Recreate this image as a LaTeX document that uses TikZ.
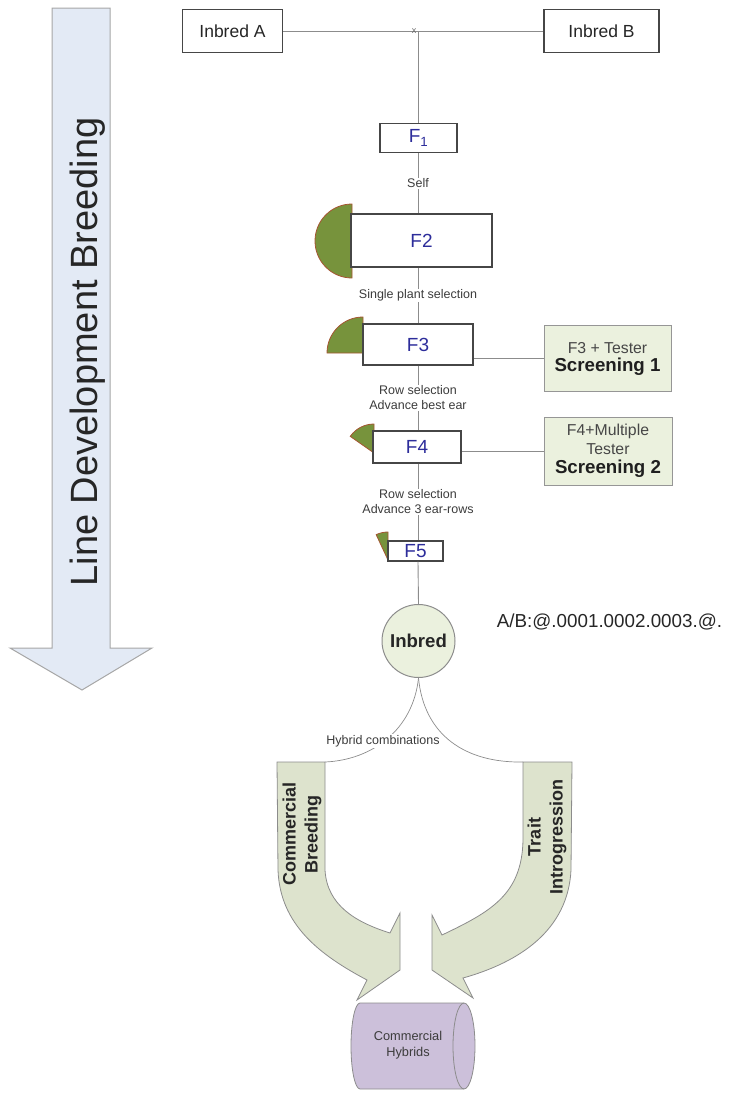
\documentclass[tikz,border=0pt]{standalone}
\usepackage{fontspec}
\setmainfont{Liberation Sans}
\newcommand\fsz[2]{\fontsize{#1}{#2}\selectfont}
\definecolor{linegray}{RGB}{140,140,140}
\definecolor{boxgray}{RGB}{70,70,70}
\definecolor{fblue}{RGB}{45,45,155}
\definecolor{lblgray}{RGB}{60,60,60}
\definecolor{txtgray}{RGB}{70,70,70}
\definecolor{scrfill}{RGB}{235,241,222}
\definecolor{scrborder}{RGB}{150,150,150}
\definecolor{seedgreen}{RGB}{119,147,60}
\definecolor{seedred}{RGB}{165,85,50}
\definecolor{arrowfill}{RGB}{221,227,205}
\definecolor{cylfill}{RGB}{204,192,218}
\definecolor{bigfill}{RGB}{227,234,245}
\begin{document}
\begin{tikzpicture}[x=1pt,y=-1pt,
  conn/.style={draw=linegray, line width=0.9pt},
  inbox/.style={draw=boxgray, line width=1.2pt, fill=white, inner sep=0pt, text=black!85, font=\fsz{17.5}{21}},
  fbox/.style={draw=boxgray, line width=1.2pt, fill=white, inner sep=0pt, text=fblue, font=\fsz{19}{22}},
  lbl/.style={fill=white, inner sep=1pt, text=lblgray, font=\fsz{12.5}{15}, align=center},
  scr/.style={draw=scrborder, line width=1pt, fill=scrfill, inner sep=0pt, align=center, text=txtgray, font=\fsz{15.8}{19}},
  seed/.style={fill=seedgreen, draw=seedred, line width=0.8pt},
  fatarrow/.style={fill=arrowfill, draw=linegray, line width=0.8pt},
  rottext/.style={rotate=90, align=center, font=\bfseries\fsz{18}{22}, text=black!85},
]
\useasboundingbox (0,0) rectangle (731,1095);

% big left arrow
\filldraw[fill=bigfill, draw=black!35, line width=1pt] (52,8) -- (110,8) -- (110,648) -- (152,648) -- (82,690) -- (10,648) -- (52,648) -- cycle;
\node[rotate=90, anchor=base, font=\fsz{38}{44}, text=black!85, inner sep=0pt] (ldb) at (97,352) {Line Development Breeding};

% top cross
\node[inbox, minimum width=100, minimum height=43] (inA) at (232.5,31) {Inbred A};
\node[inbox, minimum width=115, minimum height=43] (inB) at (601.5,31) {Inbred B};
\coordinate (junc) at (418,31);
\draw[conn] (inA.east) -- (inB.west);
\node[inner sep=0pt, font=\fsz{9}{10}, text=black!60] (xmark) at (414,31.5) {x};

% seed symbols
\filldraw[seed] (352,204) arc[start angle=270, end angle=90, radius=37] -- cycle;
\filldraw[seed] (363,353) -- (363,317) arc[start angle=270, end angle=180, radius=36] -- cycle;
\filldraw[seed] (374,453) -- (374,424) arc[start angle=270, end angle=215, radius=29] -- cycle;
\filldraw[seed] (388,560) -- (388,532) arc[start angle=270, end angle=245, radius=28] -- cycle;

% generation boxes
\node[fbox, minimum width=77, minimum height=29] (F1) at (418.5,138) {F\textsubscript{1}};
\node[fbox, minimum width=141, minimum height=53] (F2) at (421.5,240.5) {F2};
\node[fbox, minimum width=110, minimum height=41] (F3) at (418,344.5) {F3};
\node[fbox, minimum width=88, minimum height=32] (F4) at (417,447) {F4};
\node[fbox, minimum width=55, minimum height=20] (F5) at (415.5,551) {F5};

% screening boxes
\node[scr, minimum width=127, minimum height=66] (S1) at (607.5,358.5)
  {F3 + Tester\\[-1pt]{\color{black!88}\bfseries\fsz{18.7}{21}Screening 1}};
\node[scr, minimum width=128, minimum height=68] (S2) at (608,451)
  {F4+Multiple\\Tester\\[0pt]{\color{black!88}\bfseries\fsz{18.7}{21}Screening 2}};

% inbred circle
\node[circle, draw=linegray, line width=1pt, fill=scrfill, minimum size=73, inner sep=0pt, font=\bfseries\fsz{18.6}{21}, text=black!85] (inbred) at (418.5,641) {Inbred};
\node[font=\fsz{18.8}{22}, text=black!85, inner sep=0pt] (ab) at (609.5,622) {A/B:@.0001.0002.0003.@.};

% spine connectors
\draw[conn] (junc) -- (junc |- F1.north);
\draw[conn] (F1.south -| junc) -- node[lbl]{Self} (F2.north -| junc);
\draw[conn] (F2.south -| junc) -- node[lbl]{Single plant selection} (F3.north -| junc);
\draw[conn] (F3.south -| junc) -- node[lbl]{Row selection\\Advance best ear} (F4.north -| junc);
\draw[conn] (F4.south -| junc) -- node[lbl]{Row selection\\Advance 3 ear-rows} (F5.north -| junc);
\draw[conn] (F5.south -| junc) -- (inbred.north);
\draw[conn] (S1.west) -- (S1.west -| F3.east);
\draw[conn] (S2.west) -- (S2.west -| F4.east);

% fat curved arrows
\filldraw[fatarrow] (277,762) -- (325,762) -- (325,870) .. controls (327,905) and (355,922) .. (390,933)
  -- (400,913) -- (400,970) -- (357,1000) -- (367,980) .. controls (320,955) and (280,925) .. (278,870) -- cycle;
\filldraw[fatarrow] (523,762) -- (572,762) -- (571,870) .. controls (568,930) and (520,962) .. (463,978)
  -- (473,998) -- (432,970) -- (432,915) -- (442,935) .. controls (490,912) and (522,895) .. (523,840) -- cycle;
\coordinate (LAtr) at (325,762);
\coordinate (RAtl) at (523,762);
\node[rottext] (cb) at (302,834) {Commercial\\Breeding};
\node[rottext] (ti) at (547,837) {Trait\\Introgression};

% hybrid combination curves
\draw[conn, line width=0.7pt] (inbred.south) .. controls (413,730) and (372,760) .. (LAtr);
\draw[conn, line width=0.7pt] (inbred.south) .. controls (424,735) and (465,763) .. (RAtl);
\node[lbl] (hyb) at (383,741) {Hybrid combinations};

% cylinder
\filldraw[fill=cylfill, draw=linegray, line width=0.8pt] (360,1003) -- (464,1003)
  arc[start angle=270, end angle=450, x radius=11, y radius=43] -- (360,1089)
  arc[start angle=90, end angle=270, x radius=9, y radius=43] -- cycle;
\draw[draw=linegray, line width=0.8pt] (464,1003) arc[start angle=270, end angle=90, x radius=11, y radius=43];
\node[align=center, font=\fsz{12.8}{16}, text=lblgray] (cyl) at (408,1045) {Commercial\\Hybrids};
\end{tikzpicture}
\end{document}
